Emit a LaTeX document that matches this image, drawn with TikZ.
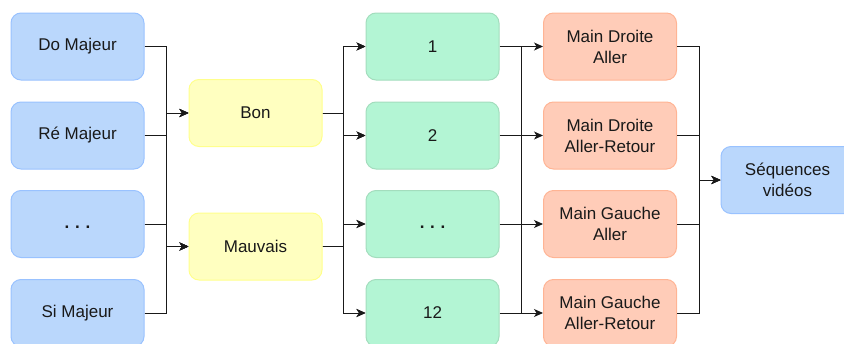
\documentclass[tikz,border=0pt]{standalone}
\usepackage{fontspec}
\setmainfont{Liberation Sans}
\usetikzlibrary{arrows.meta}
\definecolor{bluefill}{HTML}{BAD7FC}
\definecolor{bluedraw}{HTML}{99C2FF}
\definecolor{yelfill}{HTML}{FFFFC0}
\definecolor{yeldraw}{HTML}{FFFF8C}
\definecolor{grnfill}{HTML}{B3F5D4}
\definecolor{grndraw}{HTML}{A3DDBD}
\definecolor{orgfill}{HTML}{FFCCB8}
\definecolor{orgdraw}{HTML}{FFB494}
\begin{document}
\begin{tikzpicture}[x=1pt,y=-1pt,
  font=\fontsize{17}{21}\selectfont,
  box/.style={rounded corners=10pt, minimum width=133pt, minimum height=67pt,
    inner sep=0pt, align=center, line width=1pt, text=black!90},
  bluebox/.style={box, fill=bluefill, draw=bluedraw},
  yelbox/.style={box, fill=yelfill, draw=yeldraw},
  grnbox/.style={box, fill=grnfill, draw=grndraw},
  orgbox/.style={box, fill=orgfill, draw=orgdraw},
  arr/.style={-{Stealth[length=9pt,width=8pt,inset=2.5pt]}, line width=0.9pt, black!90}]
\useasboundingbox (0,0) rectangle (844,343);
% blue column
\node[bluebox] (b1) at (77.5,46.5) {Do Majeur};
\node[bluebox] (b2) at (77.5,135.5) {Ré Majeur};
\node[bluebox] (b3) at (77.5,224) {\vphantom{Ay}\textbf{.\,\,.\,\,.}};
\node[bluebox] (b4) at (77.5,313) {Si Majeur};
% yellow
\node[yelbox] (bon) at (255.5,113) {Bon};
\node[yelbox] (mau) at (255.5,246.5) {Mauvais};
% green
\node[grnbox] (g1) at (432.5,46.5) {1};
\node[grnbox] (g2) at (432.5,135.5) {2};
\node[grnbox] (g3) at (432.5,224) {\vphantom{Ay}\textbf{.\,\,.\,\,.}};
\node[grnbox] (g4) at (432.5,313) {12};
% orange
\node[orgbox] (o1) at (610,46.5) {Main Droite\\Aller};
\node[orgbox] (o2) at (610,135.5) {Main Droite\\Aller-Retour};
\node[orgbox] (o3) at (610,224) {Main Gauche\\Aller};
\node[orgbox] (o4) at (610,313) {Main Gauche\\Aller-Retour};
% final
\node[bluebox] (seq) at (787.5,180) {Séquences\\vidéos};
% bus coordinates
\coordinate (x1) at (166.5,0);
\coordinate (x2) at (343.5,0);
\coordinate (x3) at (521.5,0);
\coordinate (x4) at (699,0);
% connectors
\foreach \a in {b1,b2,b3,b4}
  \foreach \t in {bon,mau}
    \draw[arr] (\a.east) -- (\a.east -| x1) |- (\t.west);
\foreach \a in {bon,mau}
  \foreach \t in {g1,g2,g3,g4}
    \draw[arr] (\a.east) -- (\a.east -| x2) |- (\t.west);
\foreach \a/\t in {g1/o1,g2/o2,g3/o3,g4/o4}
  \draw[arr] (\a.east) -- (\t.west);
\draw[line width=0.9pt, black!90] (g1.east -| x3) -- (g4.east -| x3);
\foreach \a in {o1,o2,o3,o4}
  \draw[arr] (\a.east) -- (\a.east -| x4) |- (seq.west);
\end{tikzpicture}
\end{document}
